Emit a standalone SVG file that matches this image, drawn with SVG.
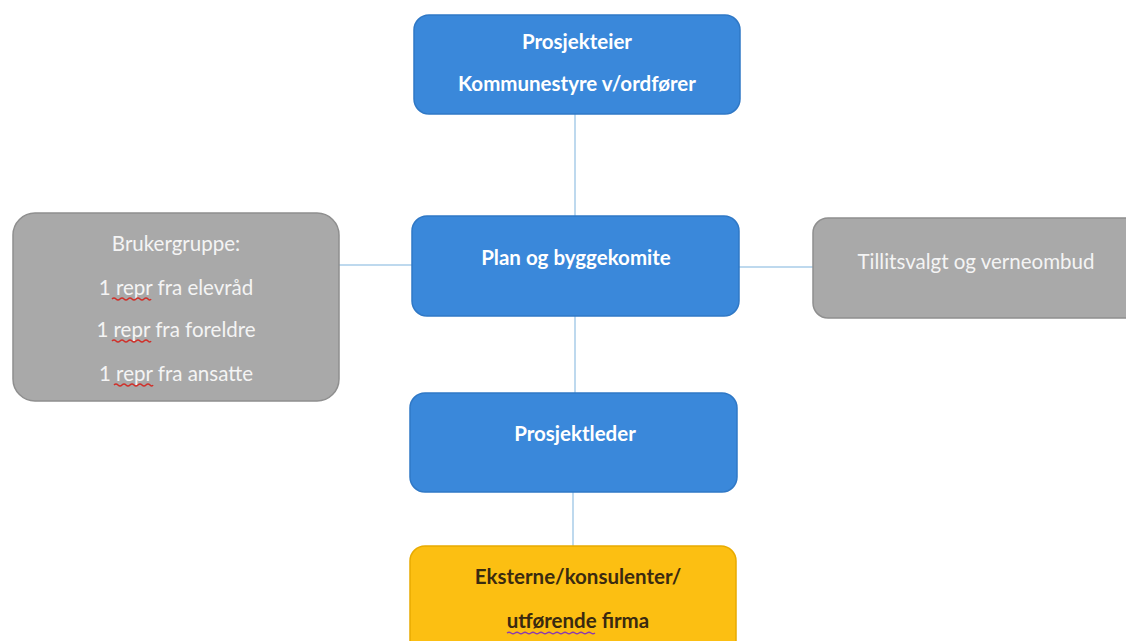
<svg xmlns="http://www.w3.org/2000/svg" width="1126" height="641" viewBox="0 0 1126 641">
<style>
.blue{fill:#3a88da;stroke:#2f78c6;stroke-width:1.5}
.gray{fill:#a9a9a9;stroke:#8f8f8f;stroke-width:1.5}
.orange{fill:#fcbf12;stroke:#e8ab00;stroke-width:1.5}
.wb{font-family:Lato,"Open Sans",sans-serif;font-weight:bold;font-size:20.5px;fill:#ffffff;text-anchor:middle}
.wg{font-family:Lato,"Open Sans",sans-serif;font-size:20.5px;fill:#f4f4f4;text-anchor:middle}
.db{font-family:Lato,"Open Sans",sans-serif;font-weight:bold;font-size:20.5px;fill:#3a2a10;text-anchor:middle}
.conn{stroke:#a9cde9;stroke-width:1.5;fill:none}
.sq{stroke:#d0302a;stroke-width:1.5;fill:none}
</style>
<rect width="1126" height="641" fill="#ffffff"/>
<g id="connectors">
<line class="conn" x1="575" y1="114" x2="575" y2="216"/>
<line class="conn" x1="575" y1="316" x2="575" y2="393"/>
<line class="conn" x1="573" y1="492" x2="573" y2="546"/>
<line class="conn" x1="339" y1="265" x2="412" y2="265"/>
<line class="conn" x1="739" y1="267" x2="813" y2="267"/>
</g>
<g id="prosjekteier">
<rect class="blue" x="414" y="15" width="326" height="99" rx="15"/>
<text class="wb" x="577" y="49">Prosjekteier</text>
<text class="wb" x="577" y="91">Kommunestyre v/ordfører</text>
</g>
<g id="plan">
<rect class="blue" x="412" y="216" width="327" height="100" rx="15"/>
<text class="wb" x="576" y="265">Plan og byggekomite</text>
</g>
<g id="brukergruppe">
<rect class="gray" x="13" y="213" width="326" height="188" rx="22"/>
<text class="wg" x="176" y="251">Brukergruppe:</text>
<text class="wg" x="176" y="295">1 repr fra elevråd</text>
<text class="wg" x="176" y="337">1 repr fra foreldre</text>
<text class="wg" x="176" y="381">1 repr fra ansatte</text>
<path class="sq" d="M112 299 q2 -2 4 0 t4 0 t4 0 t4 0 t4 0 t4 0 t4 0 t4 0 t4 0 t3 0"/>
<path class="sq" d="M112 341 q2 -2 4 0 t4 0 t4 0 t4 0 t4 0 t4 0 t4 0 t4 0 t4 0 t3 0"/>
<path class="sq" d="M114 385 q2 -2 4 0 t4 0 t4 0 t4 0 t4 0 t4 0 t4 0 t4 0 t4 0 t3 0"/>
</g>
<g id="tillitsvalgt">
<rect class="gray" x="813" y="218" width="330" height="100" rx="15"/>
<text class="wg" x="976" y="269">Tillitsvalgt og verneombud</text>
</g>
<g id="prosjektleder">
<rect class="blue" x="410" y="393" width="327" height="99" rx="15"/>
<text class="wb" x="575" y="441">Prosjektleder</text>
</g>
<g id="eksterne">
<rect class="orange" x="410" y="546" width="326" height="110" rx="15"/>
<text class="db" x="578" y="584">Eksterne/konsulenter/</text>
<text class="db" x="578" y="628">utførende firma</text>
<path d="M507 633 q2 -1.5 4 0 t4 0 t4 0 t4 0 t4 0 t4 0 t4 0 t4 0 t4 0 t4 0 t4 0 t4 0 t4 0 t4 0 t4 0 t4 0 t4 0 t4 0 t4 0 t4 0 t4 0 t4 0" stroke="#8a3ab0" stroke-width="1.3" fill="none"/>
</g>
</svg>
